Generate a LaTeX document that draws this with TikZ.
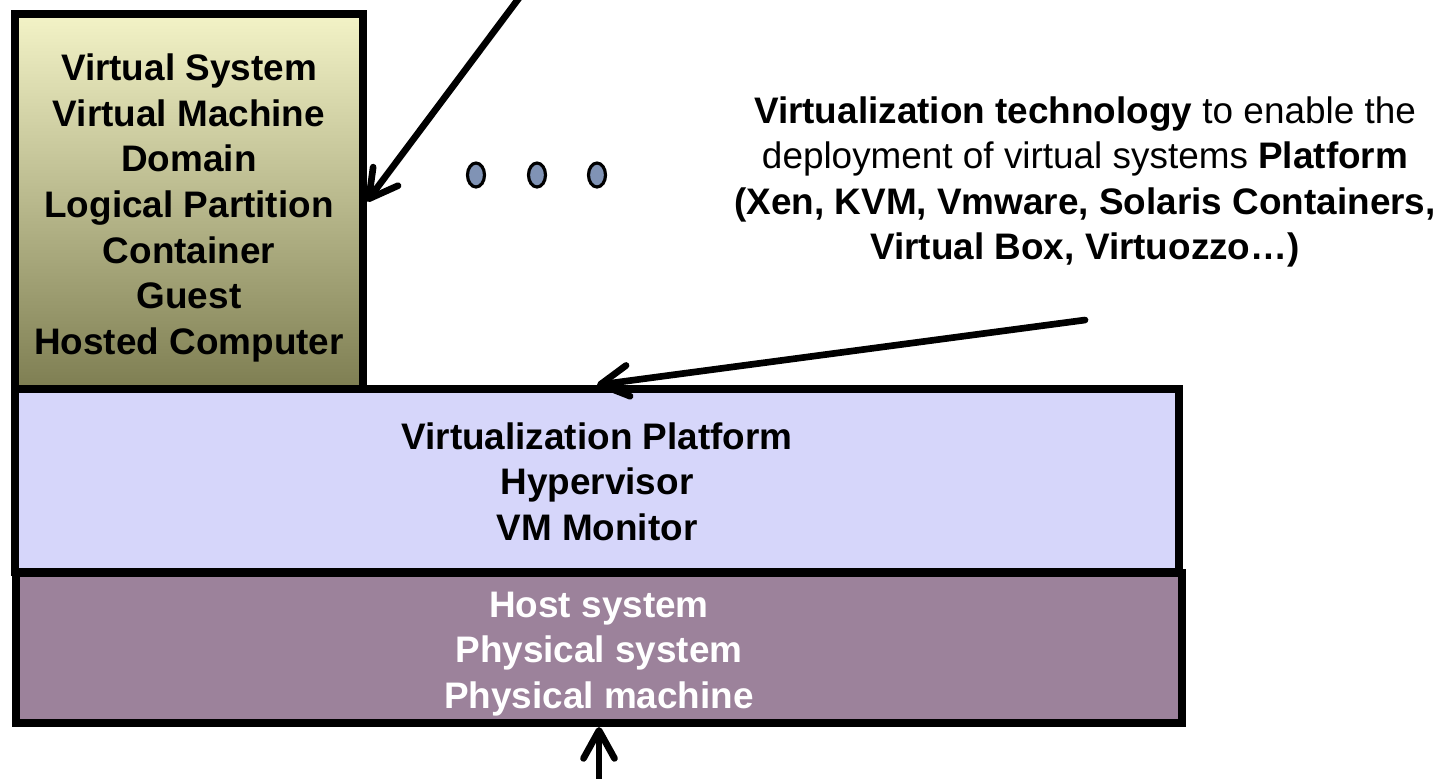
\documentclass[tikz,border=0pt]{standalone}
\usepackage{fontspec}
\setmainfont{Liberation Sans}
\usetikzlibrary{arrows.meta,shapes.geometric}

\definecolor{guesttop}{RGB}{243,243,199}
\definecolor{guestbot}{RGB}{126,126,82}
\definecolor{platfill}{RGB}{214,214,250}
\definecolor{hostfill}{RGB}{156,130,155}
\definecolor{dotfill}{RGB}{128,147,181}

\begin{document}
\begin{tikzpicture}[
    layer/.style={draw=black,line width=2.3pt},
    layertext/.style={align=center,
        font={\fontsize{10.5}{13}\selectfont\bfseries}},
    note/.style={align=center,font={\fontsize{10.5}{12.9}\selectfont}},
    pointer/.style={line width=1.9pt,line cap=round,
        -{Straight Barb[length=2.8mm,width=3.1mm,round]}},
    vdot/.style={ellipse,draw=black,line width=0.9pt,fill=dotfill,
        minimum width=0.17cm,minimum height=0.24cm,inner sep=0pt},
    ]

    % Page frame
    \useasboundingbox (0,0) rectangle (14.52,-7.78);

    % Guest box
    \node[layer,shading=axis,top color=guesttop,bottom color=guestbot,
          minimum width=3.475cm,minimum height=3.75cm] (guest) at (1.89,-2.015) {};
    \node[layertext] (guestlbl) at ([yshift=-0.065cm]guest.center)
        {Virtual System\\ Virtual Machine\\ Domain\\ Logical Partition\\
         Container\\ Guest\\ Hosted Computer};
    % Virtualization layer
    \node[layer,fill=platfill,minimum width=11.635cm,minimum height=1.83cm]
        (platform) at (5.97,-4.805) {};
    \node[layertext] (platlbl) at ([yshift=-0.01cm]platform.center)
        {Virtualization Platform\\ Hypervisor\\ VM Monitor};
    % Physical layer
    \node[layer,fill=hostfill,minimum width=11.665cm,minimum height=1.50cm]
        (host) at (5.99,-6.48) {};
    \node[layertext,text=white] (hostlbl) at ([yshift=-0.06cm]host.center)
        {Host system\\ Physical system\\ Physical machine};

    % More guests
    \foreach \i/\x in {1/4.76,2/5.37,3/5.97}
        \node[vdot] (dot\i) at (\x,-1.75) {};

    % Explanation
    \node[note] (tech) at (10.85,-1.82)
        {\textbf{Virtualization technology} to enable the\\
         deployment of virtual systems \textbf{Platform}\\
         \textbf{(Xen, KVM, Vmware, Solaris Containers,}\\
         \textbf{Virtual Box, Virtuozzo…)}};

    % Pointers
    \coordinate (guestsrc) at (5.25,0.1);
    \coordinate (platsrc) at (10.85,-3.2);
    \coordinate (hostsrc) at (5.99,-7.9);
    \draw[pointer] (guestsrc) -- (guest.east);
    \draw[pointer] (platsrc) -- (platform.north);
    \draw[pointer] (hostsrc) -- (host.south);
\end{tikzpicture}
\end{document}
